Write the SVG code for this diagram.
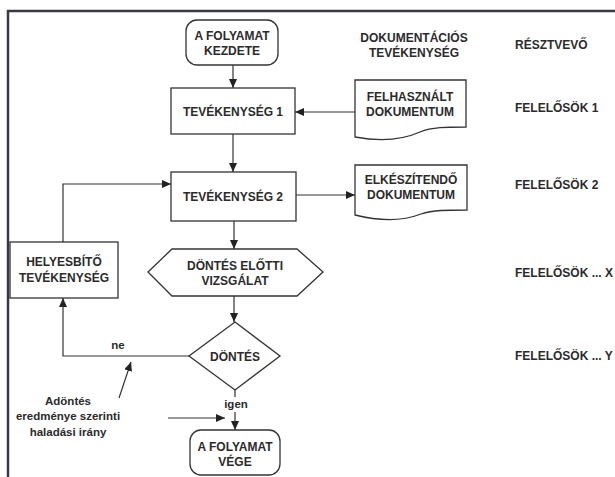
<svg xmlns="http://www.w3.org/2000/svg" width="615" height="477" viewBox="0 0 615 477">
<style>
.shape{fill:#fff;stroke:#333;stroke-width:1.3}
.conn{fill:none;stroke:#333;stroke-width:1.2}
text{font-family:"Liberation Sans",Arial,sans-serif;font-size:12px;font-weight:bold;fill:#2b2b2b;text-anchor:middle;dominant-baseline:central}
.lbl{text-anchor:start}
.small{font-size:11.5px}
</style>
<defs>
<marker id="ah" markerUnits="userSpaceOnUse" markerWidth="10" markerHeight="8" refX="9" refY="4" orient="auto">
<path d="M0,0 L9,4 L0,8 z" fill="#222"/>
</marker>
</defs>
<rect width="615" height="477" fill="#fff"/>
<g id="frame">
<path d="M8,477 V11 H615" fill="none" stroke="#3a3a44" stroke-width="2.5"/>
</g>
<g id="connectors">
<path class="conn" d="M233,65 V88" marker-end="url(#ah)"/>
<path class="conn" d="M355,112 H295" marker-end="url(#ah)"/>
<path class="conn" d="M233,134 V172" marker-end="url(#ah)"/>
<path class="conn" d="M296,195 H355" marker-end="url(#ah)"/>
<path class="conn" d="M234,221 V249" marker-end="url(#ah)"/>
<path class="conn" d="M234,296 V322" marker-end="url(#ah)"/>
<path class="conn" d="M189,356 H63 V298" marker-end="url(#ah)"/>
<path class="conn" d="M63,242 V184 H171" marker-end="url(#ah)"/>
<path class="conn" d="M235,390 V397"/>
<path class="conn" d="M235,412 V430" marker-end="url(#ah)"/>
<path class="conn" d="M119,398 L131,362" marker-end="url(#ah)"/>
<path class="conn" d="M168,418 H225" marker-end="url(#ah)"/>
</g>
<g id="start">
<rect class="shape" x="186" y="20" width="92" height="45" rx="11"/>
<text x="232" y="36">A FOLYAMAT</text>
<text x="232" y="51">KEZDETE</text>
</g>
<g id="header-doc">
<text x="414" y="38">DOKUMENTÁCIÓS</text>
<text x="414" y="53">TEVÉKENYSÉG</text>
</g>
<g id="header-resztvevo">
<text class="lbl" x="515" y="45">RÉSZTVEVŐ</text>
</g>
<g id="tev1">
<rect class="shape" x="171" y="88" width="124" height="46"/>
<text x="233" y="112">TEVÉKENYSÉG 1</text>
</g>
<g id="felhasznalt">
<path class="shape" d="M355,80 H466 V127 C446,127 432,127 420,132 C402,140 382,142 355,137 Z"/>
<text x="410" y="97">FELHASZNÁLT</text>
<text x="410" y="112">DOKUMENTUM</text>
</g>
<g id="felelosok1">
<text class="lbl" x="515" y="108">FELELŐSÖK 1</text>
</g>
<g id="tev2">
<rect class="shape" x="171" y="172" width="125" height="49"/>
<text x="233" y="197">TEVÉKENYSÉG 2</text>
</g>
<g id="elkeszitendo">
<path class="shape" d="M355,165 H467 V210 C447,210 433,210 421,214 C403,221 383,222 355,215 Z"/>
<text x="411" y="180">ELKÉSZÍTENDŐ</text>
<text x="411" y="195">DOKUMENTUM</text>
</g>
<g id="felelosok2">
<text class="lbl" x="515" y="185">FELELŐSÖK 2</text>
</g>
<g id="helyesbito">
<rect class="shape" x="10" y="242" width="108" height="56"/>
<text x="64" y="262">HELYESBÍTŐ</text>
<text x="64" y="278">TEVÉKENYSÉG</text>
</g>
<g id="vizsgalat">
<polygon class="shape" points="148,272 172,249 297,249 323,272 297,296 172,296"/>
<text x="235" y="266">DÖNTÉS ELŐTTI</text>
<text x="235" y="281">VIZSGÁLAT</text>
</g>
<g id="felelosokX">
<text class="lbl" x="515" y="273">FELELŐSÖK ... X</text>
</g>
<g id="dontes">
<polygon class="shape" points="235,322 280,356 235,390 189,356"/>
<text x="235" y="357">DÖNTÉS</text>
</g>
<g id="felelosokY">
<text class="lbl" x="515" y="356">FELELŐSÖK ... Y</text>
</g>
<g id="label-ne">
<text x="118" y="345" class="small">ne</text>
</g>
<g id="label-igen">
<text x="236" y="404" class="small">igen</text>
</g>
<g id="annotation">
<text x="68" y="401" class="small">Adöntés</text>
<text x="68" y="416" class="small">eredménye szerinti</text>
<text x="68" y="432" class="small">haladási irány</text>
</g>
<g id="end">
<rect class="shape" x="190" y="430" width="90" height="45" rx="11"/>
<text x="235" y="447">A FOLYAMAT</text>
<text x="235" y="462">VÉGE</text>
</g>
</svg>
